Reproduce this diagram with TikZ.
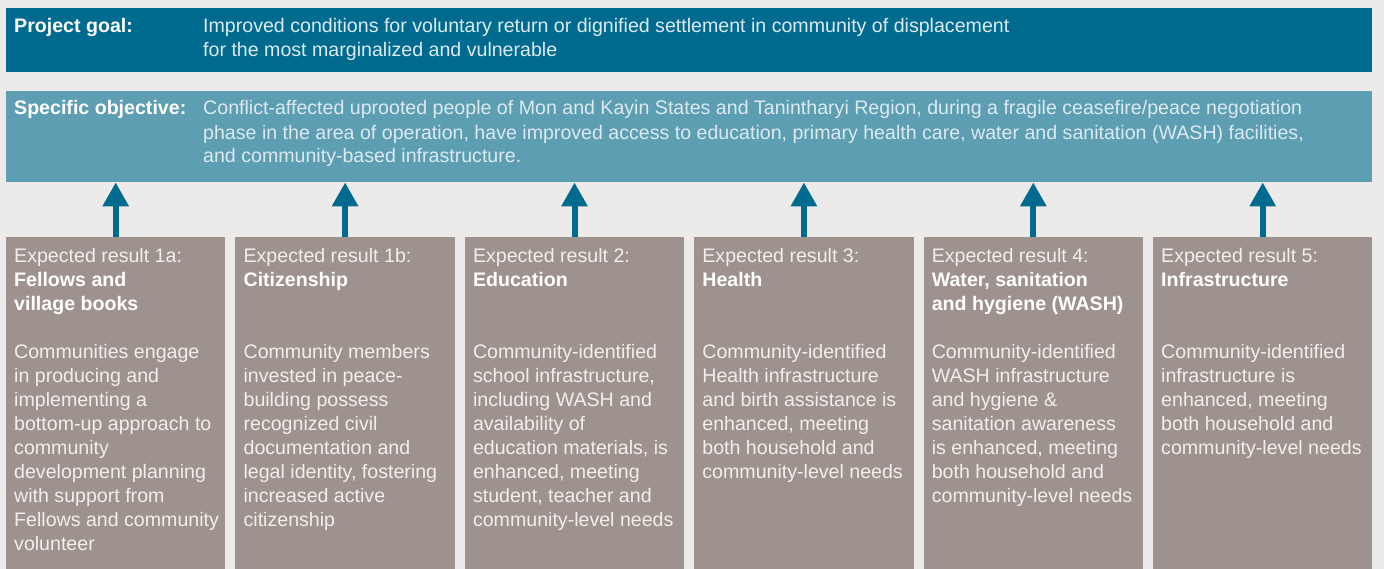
\documentclass[tikz,border=0pt]{standalone}
\usepackage{fontspec}
\setmainfont{Liberation Sans}
\usetikzlibrary{arrows.meta,positioning}
\definecolor{goalblue}{HTML}{006B8E}
\definecolor{objblue}{HTML}{5D9EB2}
\definecolor{resgray}{HTML}{9D928E}
\definecolor{bggray}{HTML}{ECEBE9}
\definecolor{bartxt}{HTML}{DCEAF0}
\definecolor{restxt}{HTML}{F2EEEC}
\newcommand{\diagfont}{\fontsize{19.6}{24}\selectfont}
\tikzstyle{bar}=[rectangle, anchor=north west, minimum width=1366pt, inner sep=0pt]
\tikzstyle{result}=
  [rectangle, fill=resgray, anchor=north west, outer sep=0pt,
   minimum width=219.4pt, minimum height=332pt, inner sep=0pt]
\tikzstyle{headtext}=
  [anchor=north west, inner sep=0pt, align=left, font=\diagfont]
\tikzstyle{bodytext}=
  [anchor=north west, inner sep=0pt, align=left, font=\diagfont, text=restxt]
\tikzstyle{uparrow}=
  [draw=goalblue, line width=6pt, -{Triangle[length=24pt,width=25pt]}]

\begin{document}
\begin{tikzpicture}[x=1pt, y=-1pt]
  \useasboundingbox [fill=bggray] (0,0) rectangle (1384,569);

  % goal and objective bars
  \node [bar, fill=goalblue, minimum height=64pt] (goal) at (6,8) {};
  \node [bar, fill=objblue, minimum height=91pt] (obj) at (6,91) {};
  \node [headtext, text=white] (goallab) at ([shift={(8,10)}]goal.north west)
    {\bfseries Project goal:};
  \node [headtext, text=bartxt] (goaltxt) at ([shift={(197,10)}]goal.north west)
    {Improved conditions for voluntary return or dignified settlement in community of displacement\\
     for the most marginalized and vulnerable};
  \node [headtext, text=white] (objlab) at ([shift={(8,9.6)}]obj.north west)
    {\bfseries Specific objective:};
  \node [headtext, text=bartxt] (objtxt) at ([shift={(197,9.6)}]obj.north west)
    {Conflict-affected uprooted people of Mon and Kayin States and Tanintharyi Region, during a fragile ceasefire/peace negotiation\\
     phase in the area of operation, have improved access to education, primary health care, water and sanitation (WASH) facilities,\\
     and community-based infrastructure.};

  % expected results
  \node [result] (r1a) at (6,237) {};
  \node [result, right=10pt of r1a] (r1b) {};
  \node [result, right=10pt of r1b] (r2) {};
  \node [result, right=10pt of r2] (r3) {};
  \node [result, right=10pt of r3] (r4) {};
  \node [result, right=10pt of r4] (r5) {};

  \node [headtext, text=restxt] (h1a) at ([shift={(8,11)}]r1a.north west)
    {Expected result 1a:\\ \bfseries\color{white}Fellows and\\ \bfseries\color{white}village books};
  \node [headtext, text=restxt] (h1b) at ([shift={(8,11)}]r1b.north west)
    {Expected result 1b:\\ \bfseries\color{white}Citizenship};
  \node [headtext, text=restxt] (h2) at ([shift={(8,11)}]r2.north west)
    {Expected result 2:\\ \bfseries\color{white}Education};
  \node [headtext, text=restxt] (h3) at ([shift={(8,11)}]r3.north west)
    {Expected result 3:\\ \bfseries\color{white}Health};
  \node [headtext, text=restxt] (h4) at ([shift={(8,11)}]r4.north west)
    {Expected result 4:\\ \bfseries\color{white}Water, sanitation\\ \bfseries\color{white}and hygiene (WASH)};
  \node [headtext, text=restxt] (h5) at ([shift={(8,11)}]r5.north west)
    {Expected result 5:\\ \bfseries\color{white}Infrastructure};

  \node [bodytext] (b1a) at ([shift={(8,107)}]r1a.north west)
    {Communities engage\\ in producing and\\ implementing a\\ bottom-up approach to\\
     community\\ development planning\\ with support from\\ Fellows and community\\ volunteer};
  \node [bodytext] (b1b) at ([shift={(8,107)}]r1b.north west)
    {Community members\\ invested in peace-\\ building possess\\ recognized civil\\
     documentation and\\ legal identity, fostering\\ increased active\\ citizenship};
  \node [bodytext] (b2) at ([shift={(8,107)}]r2.north west)
    {Community-identified\\ school infrastructure,\\ including WASH and\\ availability of\\
     education materials, is\\ enhanced, meeting\\ student, teacher and\\ community-level needs};
  \node [bodytext] (b3) at ([shift={(8,107)}]r3.north west)
    {Community-identified\\ Health infrastructure\\ and birth assistance is\\ enhanced, meeting\\
     both household and\\ community-level needs};
  \node [bodytext] (b4) at ([shift={(8,107)}]r4.north west)
    {Community-identified\\ WASH infrastructure\\ and hygiene \&\\ sanitation awareness\\
     is enhanced, meeting\\ both household and\\ community-level needs};
  \node [bodytext] (b5) at ([shift={(8,107)}]r5.north west)
    {Community-identified\\ infrastructure is\\ enhanced, meeting\\ both household and\\
     community-level needs};

  % results feed the objective
  \draw [uparrow] (r1a.north) to (r1a.north |- obj.south);
  \draw [uparrow] (r1b.north) to (r1b.north |- obj.south);
  \draw [uparrow] (r2.north) to (r2.north |- obj.south);
  \draw [uparrow] (r3.north) to (r3.north |- obj.south);
  \draw [uparrow] (r4.north) to (r4.north |- obj.south);
  \draw [uparrow] (r5.north) to (r5.north |- obj.south);
\end{tikzpicture}
\end{document}
